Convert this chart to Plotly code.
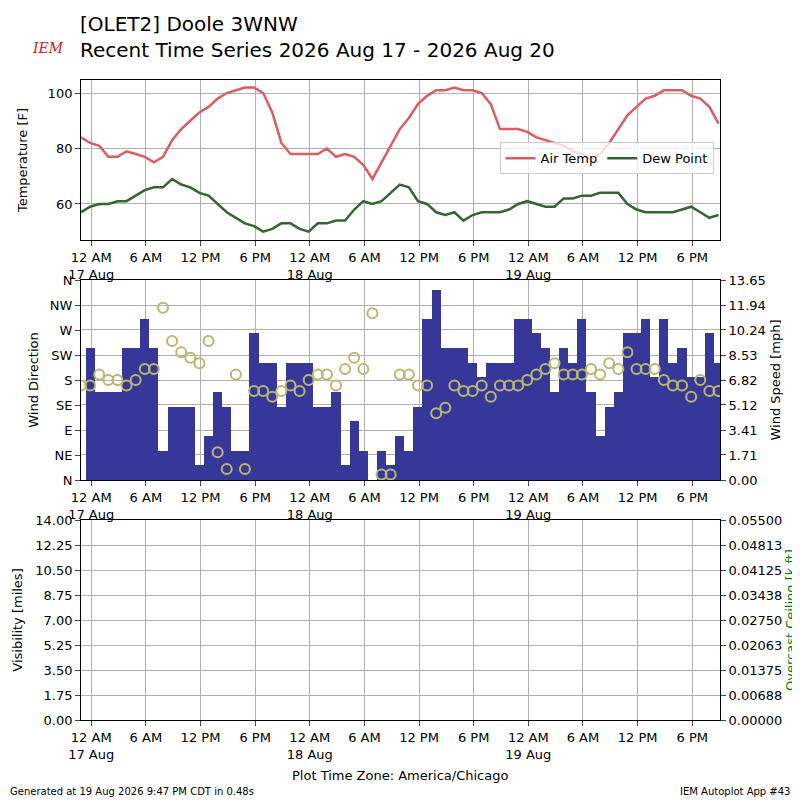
import plotly.graph_objects as go
import pandas as pd

start = "2026-08-16 22:53"
n = 71
times = pd.date_range(start, periods=n, freq="h")

temp_f = [84,82,81,77,77,79,78,77,75,77,83,87,90,93,95,98,100,101,102,102,100,93,82,78,78,78,78,80,77,78,77,74,69,75,81,87,91,96,99,101,101,102,101,101,100,96,87,87,87,86,84,83,82,81,79,78,76,78,82,87,92,95,98,99,101,101,101,99,98,95,89]
dewp_f = [57,59,60,60,61,61,63,65,66,66,69,67,66,64,63,60,57,55,53,52,50,51,53,53,51,50,53,53,54,54,58,61,60,61,64,67,66,61,60,57,56,57,54,56,57,57,57,58,60,61,60,59,59,62,62,63,63,64,64,64,60,58,57,57,57,57,58,59,57,55,56]
wind_dir = [170,170,190,180,180,170,180,200,200,310,250,230,220,210,250,50,20,190,20,160,160,150,160,170,160,180,190,190,170,200,220,200,300,10,10,190,190,170,170,120,130,170,160,160,170,150,170,170,170,180,190,200,210,190,190,190,200,190,210,200,230,200,200,200,180,170,170,150,180,160,160]
wind_mph = [0,9,6,6,6,9,9,11,9,2,5,5,5,1,3,6,5,2,2,10,8,8,5,8,8,8,5,5,6,1,4,2,0,2,1,3,2,5,11,13,9,9,9,8,7,8,8,8,11,11,10,9,6,9,8,11,6,3,5,6,10,10,11,7,11,8,9,7,7,10,8]

dir_ticks = [0,45,90,135,180,225,270,315,360]
dir_labels = ["N","NE","E","SE","S","SW","W","NW","N"]
spd_ticks = [0,1.71,3.41,5.12,6.82,8.53,10.24,11.94,13.65]
vis_ticks = [0,1.75,3.5,5.25,7,8.75,10.5,12.25,14]
ceil_ticks = [0,0.006875,0.01375,0.020625,0.0275,0.034375,0.04125,0.048125,0.055]
ceil_labels = ["0.00000","0.00688","0.01375","0.02063","0.02750","0.03438","0.04125","0.04813","0.05500"]

xt = pd.date_range("2026-08-17 00:00", "2026-08-19 18:00", freq="6h")
def lab(t):
    h = t.hour
    s = {0:"12 AM",6:"6 AM",12:"12 PM",18:"6 PM"}[h]
    if h == 0:
        s += "<br>" + t.strftime("%-d %b")
    return s
xtext = [lab(t) for t in xt]

font = dict(family="DejaVu Sans", size=13, color="black")
fig = go.Figure()
fig.add_trace(go.Scatter(x=times, y=temp_f, mode="lines", name="Air Temp",
                         line=dict(color="#dc5c62", width=2.5), xaxis="x", yaxis="y"))
fig.add_trace(go.Scatter(x=times, y=dewp_f, mode="lines", name="Dew Point",
                         line=dict(color="#336633", width=2.5), xaxis="x", yaxis="y"))
fig.add_trace(go.Bar(x=times, y=wind_mph, width=3600000, marker=dict(color="#373699", line_width=0),
                     xaxis="x2", yaxis="y2", showlegend=False))
fig.add_trace(go.Scatter(x=times, y=wind_dir, mode="markers", showlegend=False,
                         marker=dict(symbol="circle-open", size=10, color="#b8b86e", line=dict(width=2)),
                         xaxis="x2", yaxis="y3"))
fig.add_trace(go.Scatter(x=[times[0]], y=[None], mode="lines", showlegend=False, xaxis="x3", yaxis="y4"))
fig.add_trace(go.Scatter(x=[times[0]], y=[None], mode="lines", showlegend=False, xaxis="x3", yaxis="y5"))

xr = ["2026-08-16 22:53", "2026-08-19 21:03"]
ax = dict(range=xr, tickvals=xt, ticktext=xtext, showgrid=True, gridcolor="#b0b0b0",
          showline=True, linecolor="black", mirror=True, ticks="outside", tickfont=font,
          domain=[0.0913, 0.89], zeroline=False, automargin=False)
ya = dict(showgrid=True, gridcolor="#b0b0b0", showline=True, linecolor="black", mirror=True,
          ticks="outside", tickfont=font, zeroline=False, automargin=False)
fig.update_layout(
    width=800, height=800, margin=dict(l=0, r=0, t=0, b=0),
    plot_bgcolor="white", paper_bgcolor="white", font=font, bargap=0,
    xaxis=dict(ax, anchor="y"),
    xaxis2=dict(ax, anchor="y2"),
    xaxis3=dict(ax, anchor="y4"),
    yaxis=dict(ya, domain=[0.71, 0.91], range=[47, 104.7], tickvals=[60,80,100],
               title=dict(text="Temperature [F]", font=font, standoff=17)),
    yaxis2=dict(ya, domain=[0.41, 0.66], range=[0, 13.65], tickvals=spd_ticks,
                ticktext=[f"{v:.2f}" for v in spd_ticks], side="right", anchor="x2",
                title=dict(text="Wind Speed [mph]", font=font, standoff=6)),
    yaxis3=dict(ya, overlaying="y2", range=[0, 360], tickvals=dir_ticks, ticktext=dir_labels,
                side="left", anchor="x2", showgrid=False, title=dict(text="Wind Direction", font=font, standoff=8)),
    yaxis4=dict(ya, domain=[0.11, 0.36], range=[0, 14], tickvals=vis_ticks,
                ticktext=[f"{v:.2f}" for v in vis_ticks], anchor="x3",
                title=dict(text="Visibility [miles]", font=font, standoff=9)),
    yaxis5=dict(ya, overlaying="y4", range=[0, 0.055], tickvals=ceil_ticks,
                ticktext=ceil_labels, side="right", anchor="x3", showgrid=False,
                title=dict(text="Overcast Ceiling [k ft]", font=dict(family="DejaVu Sans", size=13, color="green"), standoff=4)),
    legend=dict(orientation="h", x=0.882, y=0.812, xanchor="right", yanchor="middle",
                bordercolor="#cccccc", borderwidth=1, bgcolor="rgba(255,255,255,0.8)",
                font=dict(family="DejaVu Sans", size=13)),
)
fig.add_annotation(text="[OLET2] Doole 3WNW<br>Recent Time Series 2026 Aug 17 - 2026 Aug 20",
                   xref="paper", yref="paper", x=0.087, y=0.998, xanchor="left", yanchor="top",
                   showarrow=False, align="left", font=dict(family="DejaVu Sans", size=20, color="black"))
fig.add_annotation(text="<i>IEM</i>", xref="paper", yref="paper", x=0.028, y=0.963, showarrow=False,
                   font=dict(family="DejaVu Serif", size=14, color="#cc2222"))
fig.add_annotation(text="Plot Time Zone: America/Chicago", xref="paper", yref="paper", x=0.49, y=0.029,
                   showarrow=False, font=font)
fig.add_annotation(text="Generated at 19 Aug 2026 9:47 PM CDT in 0.48s", xref="paper", yref="paper",
                   x=0.0, y=0.011, xanchor="left", showarrow=False, font=dict(family="DejaVu Sans", size=10))
fig.add_annotation(text="IEM Autoplot App #43", xref="paper", yref="paper",
                   x=0.98, y=0.011, xanchor="right", showarrow=False, font=dict(family="DejaVu Sans", size=10))
fig.write_html("out.html")
